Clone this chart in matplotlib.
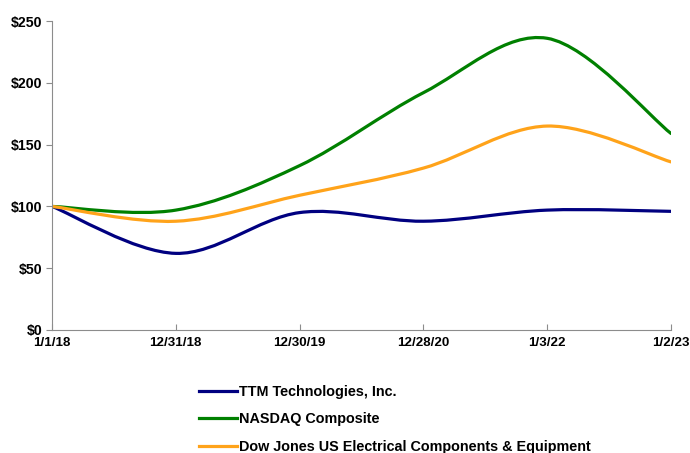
import matplotlib
matplotlib.use("Agg")
import matplotlib.pyplot as plt
from matplotlib.path import Path
from matplotlib.patches import PathPatch
from matplotlib.lines import Line2D

plt.rcParams["font.family"] = ["Liberation Sans", "DejaVu Sans"]
plt.rcParams["font.weight"] = "bold"

dates = ["1/1/18", "12/31/18", "12/30/19", "12/28/20", "1/3/22", "1/2/23"]
ttm = [100, 62, 95, 88, 97, 96]
nasdaq = [100, 97, 133, 192, 236, 159]
dow_jones = [100, 88, 109, 131, 165, 136]

names = ["TTM Technologies, Inc.", "NASDAQ Composite",
         "Dow Jones US Electrical Components & Equipment"]
colors = ["#000080", "#008000", "#FFA31A"]


def smooth_path(xs, ys):
    # Excel-style smoothed line: cubic Bezier segments, Catmull-Rom tangents
    pts = list(zip(xs, ys))
    n = len(pts)
    verts = [pts[0]]
    codes = [Path.MOVETO]
    for i in range(n - 1):
        p0 = pts[i - 1] if i > 0 else pts[i]
        p1 = pts[i]
        p2 = pts[i + 1]
        p3 = pts[i + 2] if i + 2 < n else pts[i + 1]
        c1 = (p1[0] + (p2[0] - p0[0]) / 6, p1[1] + (p2[1] - p0[1]) / 6)
        c2 = (p2[0] - (p3[0] - p1[0]) / 6, p2[1] - (p3[1] - p1[1]) / 6)
        verts += [c1, c2, p2]
        codes += [Path.CURVE4] * 3
    return Path(verts, codes)


fig = plt.figure(figsize=(6.9, 4.53), dpi=100)
ax = fig.add_axes([52 / 690, 123 / 453, 619 / 690, 309 / 453])

x = list(range(len(dates)))
handles = []
for series, name, color in zip([ttm, nasdaq, dow_jones], names, colors):
    ax.add_patch(PathPatch(smooth_path(x, series), fill=False,
                           edgecolor=color, linewidth=2.3, capstyle="round"))
    handles.append(Line2D([], [], color=color, linewidth=2.3, label=name))

ax.set_xlim(0, len(dates) - 1)
ax.set_ylim(0, 250)
ax.set_xticks(x)
ax.set_xticklabels(dates)
ax.set_yticks(range(0, 251, 50))
ax.set_yticklabels(["$%d" % v for v in range(0, 251, 50)])

for side in ["top", "right"]:
    ax.spines[side].set_visible(False)
for side in ["left", "bottom"]:
    ax.spines[side].set_color("#8c8c8c")
    ax.spines[side].set_linewidth(0.8)

ax.tick_params(axis="y", colors="#8c8c8c", labelcolor="black",
               length=4, width=0.8, labelsize=10.2, pad=3)
ax.tick_params(axis="x", colors="#8c8c8c", labelcolor="black",
               direction="in", length=4, width=0.8, labelsize=9.6, pad=5)

fig.legend(handles=handles, loc="upper left",
           bbox_to_anchor=(199 / 690, 1 - 385 / 453), frameon=False,
           fontsize=10.4, handlelength=2.6, handletextpad=0.2,
           labelspacing=0.92, borderpad=0, borderaxespad=0)

fig.savefig("out.png", dpi=100)
